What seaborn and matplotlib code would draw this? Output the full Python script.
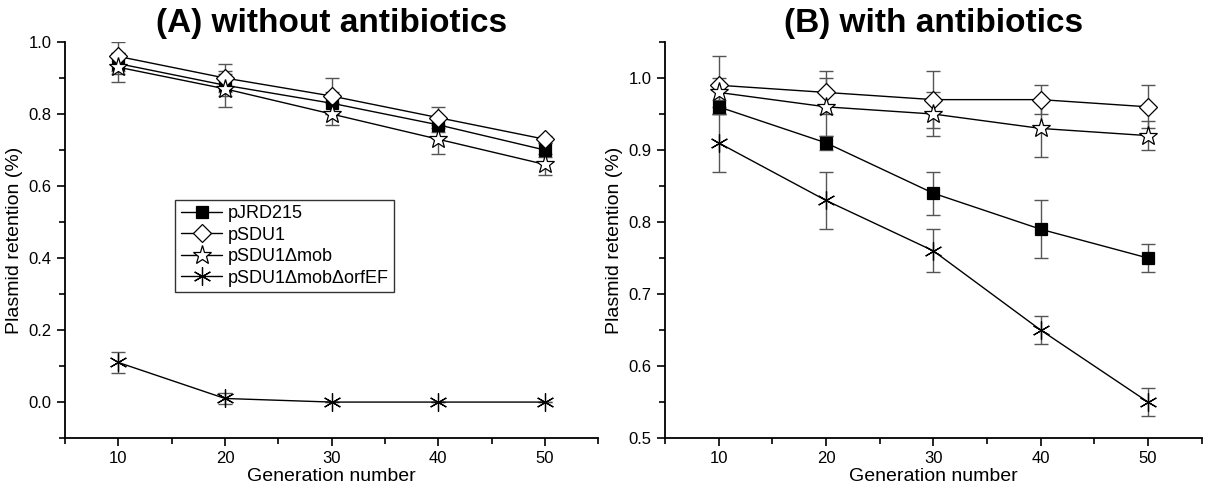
import matplotlib
matplotlib.use("Agg")
import matplotlib.pyplot as plt
import seaborn as sns
import pandas as pd
from matplotlib.ticker import MultipleLocator

generations = [10, 20, 30, 40, 50]
series_names = ["pJRD215", "pSDU1", "pSDU1\u0394mob", "pSDU1\u0394mob\u0394orfEF"]

# (A) without antibiotics
a_jrd = [0.94, 0.88, 0.83, 0.77, 0.70]
a_sdu = [0.96, 0.90, 0.85, 0.79, 0.73]
a_mob = [0.93, 0.87, 0.80, 0.73, 0.66]
a_orf = [0.11, 0.01, 0.00, 0.00, 0.00]
a_jrd_err = [0.03, 0.03, 0.03, 0.02, 0.02]
a_sdu_err = [0.04, 0.04, 0.05, 0.03, 0.01]
a_mob_err = [0.04, 0.05, 0.03, 0.04, 0.03]
a_orf_err = [0.03, 0.015, 0.0, 0.0, 0.0]

# (B) with antibiotics
b_jrd = [0.96, 0.91, 0.84, 0.79, 0.75]
b_sdu = [0.99, 0.98, 0.97, 0.97, 0.96]
b_mob = [0.98, 0.96, 0.95, 0.93, 0.92]
b_orf = [0.91, 0.83, 0.76, 0.65, 0.55]
b_jrd_err = [0.01, 0.01, 0.03, 0.04, 0.02]
b_sdu_err = [0.04, 0.03, 0.04, 0.02, 0.03]
b_mob_err = [0.02, 0.04, 0.03, 0.04, 0.02]
b_orf_err = [0.04, 0.04, 0.03, 0.02, 0.02]

sns.set_theme(style="ticks")
plt.rcParams['font.family'] = ['Liberation Sans', 'DejaVu Sans']
plt.rcParams.update({
    'axes.linewidth': 1.3,
    'axes.edgecolor': 'black',
    'text.color': 'black',
    'axes.labelcolor': 'black',
    'xtick.color': 'black',
    'ytick.color': 'black',
})

styles = [
    dict(marker="s", markerfacecolor="black", markersize=9),
    dict(marker="D", markerfacecolor="white", markersize=9),
    dict(marker="*", markerfacecolor="white", markersize=14),
    dict(marker=(6, 2, 0), markerfacecolor="black", markersize=13),
]

fig = plt.figure(figsize=(12.09, 4.83), dpi=100)
axA = fig.add_axes([0.0538, 0.093, 0.441, 0.820])
axB = fig.add_axes([0.550, 0.093, 0.444, 0.820])

def draw(ax, values, errors, title, ylim, ymaj, ymin, legend):
    for name, v, e, st in zip(series_names, values, errors, styles):
        df = pd.DataFrame({"gen": generations, "val": v})
        ax.errorbar(generations, v, yerr=e, fmt="none", ecolor="#555555",
                    elinewidth=1.0, capsize=5, capthick=1.0, zorder=1)
        sns.lineplot(data=df, x="gen", y="val", ax=ax, color="black",
                     linewidth=1.0, markeredgecolor="black", markeredgewidth=0.9,
                     label=name, zorder=3, **st)
    ax.set_xlim(5, 55)
    ax.set_ylim(*ylim)
    ax.xaxis.set_major_locator(MultipleLocator(10))
    ax.xaxis.set_minor_locator(MultipleLocator(5))
    ax.yaxis.set_major_locator(MultipleLocator(ymaj))
    ax.yaxis.set_minor_locator(MultipleLocator(ymin))
    ax.yaxis.set_major_formatter(matplotlib.ticker.FormatStrFormatter('%.1f'))
    ax.tick_params(which="major", length=6, width=1.2, labelsize=12, direction="out")
    ax.tick_params(which="minor", length=4, width=1.2, direction="out")
    sns.despine(ax=ax)
    ax.set_xlabel("Generation number", fontsize=14, labelpad=1)
    ax.set_ylabel("Plasmid retention (%)", fontsize=14)
    ax.set_title(title, fontsize=24, fontweight="bold", pad=7)
    if legend:
        leg = ax.legend(loc="upper left", bbox_to_anchor=(0.19, 0.625), fontsize=13,
                        frameon=True, fancybox=False, edgecolor="black",
                        handlelength=2.3, borderpad=0.3, labelspacing=0.25,
                        handletextpad=0.3)
        leg.get_frame().set_linewidth(1.0)
    else:
        if ax.get_legend():
            ax.get_legend().remove()

draw(axA, [a_jrd, a_sdu, a_mob, a_orf], [a_jrd_err, a_sdu_err, a_mob_err, a_orf_err],
     "(A) without antibiotics", (-0.1, 1.0), 0.2, 0.1, True)
draw(axB, [b_jrd, b_sdu, b_mob, b_orf], [b_jrd_err, b_sdu_err, b_mob_err, b_orf_err],
     "(B) with antibiotics", (0.5, 1.05), 0.1, 0.05, False)

fig.savefig("out.png", dpi=100)
